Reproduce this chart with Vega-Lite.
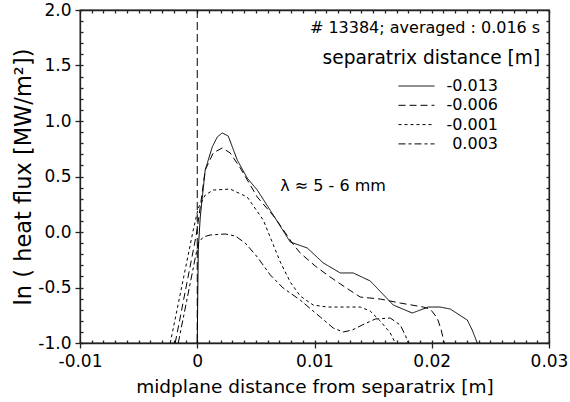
{
  "$schema": "https://vega.github.io/schema/vega-lite/v6.json",
  "width": 469,
  "height": 333,
  "autosize": {"type": "none"},
  "padding": {"left": 80, "top": 10, "right": 21, "bottom": 59},
  "background": "white",
  "config": {
    "view": {"stroke": "#222222", "strokeWidth": 1.3},
    "font": "DejaVu Sans",
    "axis": {"labelColor": "black", "titleColor": "black", "grid": false, "labelFont": "DejaVu Sans", "titleFont": "DejaVu Sans", "titleFontWeight": "normal"}
  },
  "data": {
    "values": [
      {"series": "-0.013", "x": 0.0, "y": -1.0},
      {"series": "-0.013", "x": 0.000085, "y": -0.162},
      {"series": "-0.013", "x": 0.000256, "y": 0.135},
      {"series": "-0.013", "x": 0.00068, "y": 0.559},
      {"series": "-0.013", "x": 0.00128, "y": 0.766},
      {"series": "-0.013", "x": 0.00171, "y": 0.856},
      {"series": "-0.013", "x": 0.00213, "y": 0.892},
      {"series": "-0.013", "x": 0.00264, "y": 0.865},
      {"series": "-0.013", "x": 0.00341, "y": 0.649},
      {"series": "-0.013", "x": 0.00426, "y": 0.486},
      {"series": "-0.013", "x": 0.00512, "y": 0.378},
      {"series": "-0.013", "x": 0.00648, "y": 0.153},
      {"series": "-0.013", "x": 0.00793, "y": -0.09},
      {"series": "-0.013", "x": 0.00938, "y": -0.144},
      {"series": "-0.013", "x": 0.01075, "y": -0.279},
      {"series": "-0.013", "x": 0.0122, "y": -0.369},
      {"series": "-0.013", "x": 0.0133, "y": -0.369},
      {"series": "-0.013", "x": 0.01475, "y": -0.441},
      {"series": "-0.013", "x": 0.01672, "y": -0.658},
      {"series": "-0.013", "x": 0.01834, "y": -0.73},
      {"series": "-0.013", "x": 0.0197, "y": -0.676},
      {"series": "-0.013", "x": 0.02072, "y": -0.676},
      {"series": "-0.013", "x": 0.02158, "y": -0.694},
      {"series": "-0.013", "x": 0.02303, "y": -0.793},
      {"series": "-0.013", "x": 0.02345, "y": -0.883},
      {"series": "-0.013", "x": 0.02388, "y": -1.0},

      {"series": "-0.006", "x": -0.00188, "y": -1.0},
      {"series": "-0.006", "x": -0.000085, "y": -0.027},
      {"series": "-0.006", "x": 0.000256, "y": 0.225},
      {"series": "-0.006", "x": 0.00068, "y": 0.559},
      {"series": "-0.006", "x": 0.00136, "y": 0.712},
      {"series": "-0.006", "x": 0.00213, "y": 0.757},
      {"series": "-0.006", "x": 0.00281, "y": 0.712},
      {"series": "-0.006", "x": 0.00367, "y": 0.577},
      {"series": "-0.006", "x": 0.00512, "y": 0.315},
      {"series": "-0.006", "x": 0.00665, "y": 0.126},
      {"series": "-0.006", "x": 0.0081, "y": -0.099},
      {"series": "-0.006", "x": 0.00878, "y": -0.189},
      {"series": "-0.006", "x": 0.01006, "y": -0.306},
      {"series": "-0.006", "x": 0.01109, "y": -0.387},
      {"series": "-0.006", "x": 0.0122, "y": -0.468},
      {"series": "-0.006", "x": 0.0139, "y": -0.586},
      {"series": "-0.006", "x": 0.01561, "y": -0.604},
      {"series": "-0.006", "x": 0.01731, "y": -0.64},
      {"series": "-0.006", "x": 0.01927, "y": -0.676},
      {"series": "-0.006", "x": 0.01987, "y": -0.694},
      {"series": "-0.006", "x": 0.02047, "y": -0.775},
      {"series": "-0.006", "x": 0.02081, "y": -0.883},
      {"series": "-0.006", "x": 0.02106, "y": -1.0},

      {"series": "-0.001", "x": -0.0023, "y": -1.0},
      {"series": "-0.001", "x": -0.00034, "y": 0.018},
      {"series": "-0.001", "x": 0.000085, "y": 0.216},
      {"series": "-0.001", "x": 0.00068, "y": 0.333},
      {"series": "-0.001", "x": 0.00136, "y": 0.378},
      {"series": "-0.001", "x": 0.00281, "y": 0.387},
      {"series": "-0.001", "x": 0.00426, "y": 0.315},
      {"series": "-0.001", "x": 0.00563, "y": 0.108},
      {"series": "-0.001", "x": 0.00708, "y": -0.27},
      {"series": "-0.001", "x": 0.00793, "y": -0.45},
      {"series": "-0.001", "x": 0.00878, "y": -0.577},
      {"series": "-0.001", "x": 0.00989, "y": -0.658},
      {"series": "-0.001", "x": 0.01109, "y": -0.676},
      {"series": "-0.001", "x": 0.0139, "y": -0.676},
      {"series": "-0.001", "x": 0.01475, "y": -0.712},
      {"series": "-0.001", "x": 0.01561, "y": -0.802},
      {"series": "-0.001", "x": 0.01646, "y": -0.91},
      {"series": "-0.001", "x": 0.01689, "y": -1.0},

      {"series": "0.003", "x": -0.00162, "y": -1.0},
      {"series": "0.003", "x": 0.000085, "y": -0.099},
      {"series": "0.003", "x": 0.00051, "y": -0.045},
      {"series": "0.003", "x": 0.00111, "y": -0.027},
      {"series": "0.003", "x": 0.00239, "y": -0.018},
      {"series": "0.003", "x": 0.00324, "y": -0.036},
      {"series": "0.003", "x": 0.00409, "y": -0.099},
      {"series": "0.003", "x": 0.00512, "y": -0.225},
      {"series": "0.003", "x": 0.00623, "y": -0.387},
      {"series": "0.003", "x": 0.00733, "y": -0.505},
      {"series": "0.003", "x": 0.00878, "y": -0.613},
      {"series": "0.003", "x": 0.01049, "y": -0.766},
      {"series": "0.003", "x": 0.0116, "y": -0.865},
      {"series": "0.003", "x": 0.01245, "y": -0.901},
      {"series": "0.003", "x": 0.01322, "y": -0.883},
      {"series": "0.003", "x": 0.01407, "y": -0.838},
      {"series": "0.003", "x": 0.01518, "y": -0.784},
      {"series": "0.003", "x": 0.01646, "y": -0.775},
      {"series": "0.003", "x": 0.01731, "y": -0.838},
      {"series": "0.003", "x": 0.01774, "y": -0.928},
      {"series": "0.003", "x": 0.018, "y": -1.0}
    ]
  },
  "layer": [
    {
      "mark": {"type": "line", "strokeWidth": 1, "color": "black", "clip": true},
      "encoding": {
        "x": {
          "field": "x", "type": "quantitative",
          "scale": {"domain": [-0.01, 0.03], "nice": false, "zero": false},
          "axis": {
            "orient": "bottom", "values": [-0.01, 0, 0.01, 0.02, 0.03], "domainColor": "#222222", "tickColor": "#222222", "domainWidth": 1.3, "tickWidth": 1.3,
            "labelExpr": "datum.value == 0 ? '0' : (datum.value < 0 ? '-' : '') + format(abs(datum.value), '.2f')",
            "tickSize": 5, "labelPadding": 5, "labelFontSize": 17, "labelFlush": false, "labelOverlap": false,
            "title": "midplane distance from separatrix [m]", "titleFontSize": 18.5, "titlePadding": 8
          }
        },
        "y": {
          "field": "y", "type": "quantitative",
          "scale": {"domain": [-1, 2], "nice": false, "zero": false},
          "axis": {
            "orient": "left", "values": [-1, -0.5, 0, 0.5, 1, 1.5, 2], "domainColor": "#222222", "tickColor": "#222222", "domainWidth": 1.3, "tickWidth": 1.3,
            "labelExpr": "(datum.value < 0 ? '-' : '') + format(abs(datum.value), '.1f')",
            "tickSize": 5, "labelPadding": 4, "labelFontSize": 17, "labelFlush": false, "labelOverlap": false,
            "title": "ln ( heat flux [MW/m²])", "titleFontSize": 22.5, "titlePadding": 2
          }
        },
        "strokeDash": {
          "field": "series", "type": "nominal",
          "scale": {"domain": ["-0.013", "-0.006", "-0.001", "0.003"], "range": [[1, 0], [7, 4], [3, 3], [7, 3, 3, 3]]},
          "legend": {
            "orient": "none", "legendX": 318, "legendY": 68, "title": null, "padding": 0,
            "symbolType": "stroke", "symbolSize": 1296, "symbolStrokeWidth": 1, "symbolStrokeColor": "black",
            "labelAlign": "right", "labelOffset": 63, "labelFontSize": 16, "labelColor": "black", "labelFont": "DejaVu Sans",
            "rowPadding": 3.3, "clipHeight": 16
          }
        }
      }
    },
    {
      "mark": {"type": "line", "strokeOpacity": 0},
      "encoding": {
        "x": {"field": "x", "type": "quantitative", "scale": {"domain": [-0.01, 0.03], "nice": false, "zero": false},
          "axis": {"orient": "top", "values": [-0.01, -0.009, -0.008, -0.007, -0.006, -0.005, -0.004, -0.003, -0.002, -0.001, 0, 0.001, 0.002, 0.003, 0.004, 0.005, 0.006, 0.007, 0.008, 0.009, 0.01, 0.011, 0.012, 0.013, 0.014, 0.015, 0.016, 0.017, 0.018, 0.019, 0.02, 0.021, 0.022, 0.023, 0.024, 0.025, 0.026, 0.027, 0.028, 0.029, 0.03], "labels": false, "tickSize": -3, "title": null, "domainColor": "#222222", "tickColor": "#222222", "domainWidth": 1.3, "tickWidth": 1.3}},
        "y": {"field": "y", "type": "quantitative", "scale": {"domain": [-1, 2], "nice": false, "zero": false},
          "axis": {"orient": "right", "values": [-1, -0.9, -0.8, -0.7, -0.6, -0.5, -0.4, -0.3, -0.2, -0.1, 0, 0.1, 0.2, 0.3, 0.4, 0.5, 0.6, 0.7, 0.8, 0.9, 1, 1.1, 1.2, 1.3, 1.4, 1.5, 1.6, 1.7, 1.8, 1.9, 2], "labels": false, "tickSize": -3, "title": null, "domainColor": "#222222", "tickColor": "#222222", "domainWidth": 1.3, "tickWidth": 1.3}},
        "detail": {"field": "series"}
      }
    },
    {
      "mark": {"type": "line", "strokeOpacity": 0},
      "encoding": {
        "x": {"field": "x", "type": "quantitative", "scale": {"domain": [-0.01, 0.03], "nice": false, "zero": false},
          "axis": {"orient": "bottom", "values": [-0.01, -0.009, -0.008, -0.007, -0.006, -0.005, -0.004, -0.003, -0.002, -0.001, 0, 0.001, 0.002, 0.003, 0.004, 0.005, 0.006, 0.007, 0.008, 0.009, 0.01, 0.011, 0.012, 0.013, 0.014, 0.015, 0.016, 0.017, 0.018, 0.019, 0.02, 0.021, 0.022, 0.023, 0.024, 0.025, 0.026, 0.027, 0.028, 0.029, 0.03], "labels": false, "domain": false, "tickSize": -3, "title": null, "tickColor": "#222222", "tickWidth": 1.3}},
        "y": {"field": "y", "type": "quantitative", "scale": {"domain": [-1, 2], "nice": false, "zero": false},
          "axis": {"orient": "left", "values": [-1, -0.9, -0.8, -0.7, -0.6, -0.5, -0.4, -0.3, -0.2, -0.1, 0, 0.1, 0.2, 0.3, 0.4, 0.5, 0.6, 0.7, 0.8, 0.9, 1, 1.1, 1.2, 1.3, 1.4, 1.5, 1.6, 1.7, 1.8, 1.9, 2], "labels": false, "domain": false, "tickSize": -3, "title": null, "tickColor": "#222222", "tickWidth": 1.3}},
        "detail": {"field": "series"}
      }
    },
    {
      "data": {"values": [{}]},
      "mark": {"type": "rule", "strokeDash": [8, 4], "color": "black", "strokeWidth": 1},
      "encoding": {"x": {"datum": 0, "type": "quantitative", "axis": null}}
    },
    {
      "data": {"values": [{}]},
      "mark": {"type": "text", "text": "# 13384; averaged : 0.016 s", "align": "right", "baseline": "middle", "fontSize": 16, "font": "DejaVu Sans", "color": "black"},
      "encoding": {"x": {"datum": 0.02925, "type": "quantitative", "axis": null}, "y": {"datum": 1.838, "type": "quantitative", "axis": null}}
    },
    {
      "data": {"values": [{}]},
      "mark": {"type": "text", "text": "separatrix distance [m]", "align": "right", "baseline": "middle", "fontSize": 18.6, "font": "DejaVu Sans", "color": "black"},
      "encoding": {"x": {"datum": 0.02925, "type": "quantitative", "axis": null}, "y": {"datum": 1.568, "type": "quantitative", "axis": null}}
    },
    {
      "data": {"values": [{}]},
      "mark": {"type": "text", "text": "λ ≈ 5 - 6 mm", "align": "left", "baseline": "middle", "fontSize": 16, "font": "DejaVu Sans", "color": "black"},
      "encoding": {"x": {"datum": 0.00708, "type": "quantitative", "axis": null}, "y": {"datum": 0.414, "type": "quantitative", "axis": null}}
    }
  ],
  "resolve": {"axis": {"x": "independent", "y": "independent"}}
}
